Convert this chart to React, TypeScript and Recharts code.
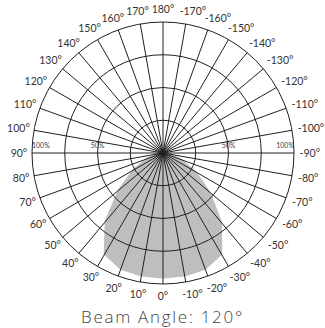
import { RadarChart, Radar, PolarGrid, PolarAngleAxis, PolarRadiusAxis } from 'recharts';

// angle labels, clockwise from the top
const ANGLE_LABELS = [
  '180°', '-170°', '-160°', '-150°', '-140°', '-130°', '-120°', '-110°', '-100°',
  '-90°', '-80°', '-70°', '-60°', '-50°', '-40°', '-30°', '-20°', '-10°',
  '0°', '10°', '20°', '30°', '40°', '50°', '60°', '70°', '80°',
  '90°', '100°', '110°', '120°', '130°', '140°', '150°', '160°', '170°',
];

// relative intensity (%) at each angle
const INTENSITY = [
  0, 0, 0, 0, 0, 0, 0, 0, 0,
  0, 5, 14, 28, 46, 69, 89, 94, 95,
  95, 95, 94, 89, 68, 44, 26, 13, 5,
  0, 0, 0, 0, 0, 0, 0, 0, 0,
];

const RADIUS_LABELS = [50, 100];
const TITLE = 'Beam Angle: 120°';

const CX = 163;
const CY = 153;
const OUTER = 131;
const LINE = '#231f20';
const FONT = 'Lato, sans-serif';

const data = ANGLE_LABELS.map((angle, i) => ({ angle, value: INTENSITY[i] }));

function AngleTick(props: any) {
  const { x, y, payload } = props;
  const dx = x - CX;
  const dy = y - CY;
  const d = Math.hypot(dx, dy) || 1;
  const ux = dx / d;
  const uy = dy / d;
  const label = String(payload.value);
  const w = label.length * 5.4;
  const shift = label.startsWith('-') ? 4 * Math.abs(uy) : 0;
  const tx = CX + ux * 136 + (ux * w) / 2 + shift;
  const ty = CY + uy * 139 + uy * 4.5;
  return (
    <text x={tx} y={ty} dy="0.35em" textAnchor="middle" fontSize={10.5} fill="#333" fontFamily={FONT}>
      {label}
    </text>
  );
}

// draws the label on the right and its mirror on the left
function RadiusTick(props: any) {
  const { x, y, payload } = props;
  const v = payload.value;
  if (!RADIUS_LABELS.includes(v)) return null;
  const mx = 2 * CX - x;
  const outer = v === 100;
  return (
    <g>
      <text x={x} y={y - 5} textAnchor={outer ? 'end' : 'middle'} fontSize={7} fill="#444" fontFamily={FONT}>
        {v}%
      </text>
      <text x={mx} y={y - 5} textAnchor={outer ? 'start' : 'middle'} fontSize={7} fill="#444" fontFamily={FONT}>
        {v}%
      </text>
    </g>
  );
}

const layer = { position: 'absolute' as const, left: 0, top: 0 };

export default function App() {
  return (
    <div style={{ position: 'absolute', left: 0, top: 0, width: 325, height: 328, background: '#fff' }}>
      {/* beam shape underneath */}
      <div style={layer}>
        <RadarChart width={325} height={305} data={data} cx={CX} cy={CY} outerRadius={OUTER} margin={{ top: 0, right: 0, bottom: 0, left: 0 }}>
          <PolarAngleAxis dataKey="angle" axisLine={false} tickLine={false} tick={false} />
          <PolarRadiusAxis domain={[0, 100]} tickCount={5} axisLine={false} tickLine={false} tick={false} />
          <Radar dataKey="value" fill="#bdbec0" fillOpacity={1} stroke="#bdbec0" strokeWidth={2} strokeLinejoin="round" isAnimationActive={false} />
        </RadarChart>
      </div>
      {/* grid and labels on top */}
      <div style={layer}>
        <RadarChart width={325} height={305} data={data} cx={CX} cy={CY} outerRadius={OUTER} margin={{ top: 0, right: 0, bottom: 0, left: 0 }}>
          <PolarGrid gridType="circle" stroke={LINE} strokeWidth={1} strokeOpacity={1} />
          <PolarAngleAxis dataKey="angle" axisLine={false} tickLine={false} tick={<AngleTick />} />
          <PolarRadiusAxis domain={[0, 100]} tickCount={5} angle={0} axisLine={false} tickLine={false} tick={<RadiusTick />} />
          <Radar dataKey="value" fill="none" fillOpacity={0} stroke="none" isAnimationActive={false} />
        </RadarChart>
      </div>
      <div
        style={{
          position: 'absolute',
          left: 0,
          top: 306,
          width: 325,
          textAlign: 'center',
          fontFamily: '"Open Sans", sans-serif',
          fontWeight: 300,
          fontSize: 17,
          letterSpacing: 1.7,
          lineHeight: '22px',
          color: '#444',
        }}
      >
        {TITLE}
      </div>
    </div>
  );
}
